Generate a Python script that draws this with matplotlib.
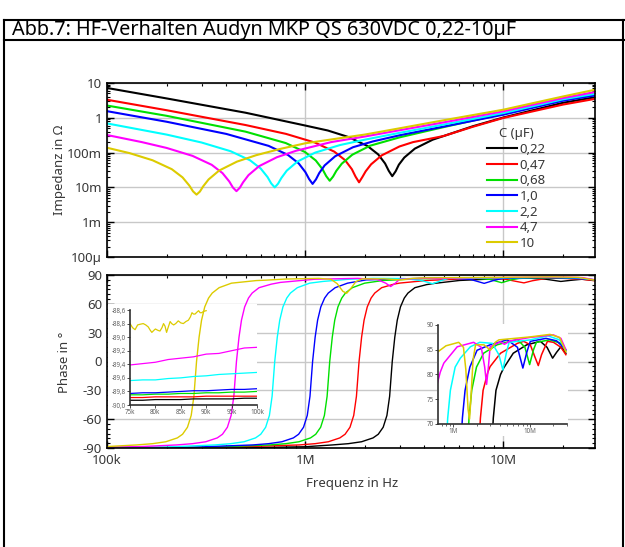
import matplotlib
matplotlib.use("Agg")
import matplotlib.pyplot as plt
from matplotlib.lines import Line2D
from matplotlib.patches import Rectangle
from matplotlib.ticker import FixedLocator, LogLocator, MultipleLocator, NullFormatter

plt.rcParams["font.family"] = ["Noto Sans", "DejaVu Sans"]
plt.rcParams["axes.unicode_minus"] = False

W, H = 625, 547

labels = ["0,22", "0,47", "0,68", "1,0", "2,2", "4,7", "10"]
colors = ["#000000", "#ff0000", "#00e000", "#0000ff", "#00ffff", "#ff00ff", "#dccb00"]

# impedance |Z| in ohm over frequency in Hz
fz_022 = [1e5, 2e5, 5e5, 1e6, 1.3e6, 1.65e6, 2.0625e6, 2.3375e6, 2.53e6, 2.64e6, 2.75e6, 2.86e6, 2.97e6,
          3.1625e6, 3.575e6, 4.4e6, 5e6, 7e6, 1e7, 2e7, 2.9e7]
z_022 = [7.2, 3.6, 1.4, 0.6, 0.432, 0.281, 0.155, 0.0884, 0.0487, 0.030, 0.021, 0.029, 0.045,
         0.072, 0.13, 0.235, 0.3, 0.57, 1.02, 2.7, 3.9]
fz_047 = [1e5, 2e5, 5e5, 8e5, 1.122e6, 1.4025e6, 1.5895e6, 1.7204e6, 1.7952e6, 1.87e6, 1.9448e6, 2.0196e6,
          2.1505e6, 2.431e6, 2.99e6, 3.5e6, 5e6, 7e6, 1e7, 2e7, 2.9e7]
z_047 = [3.3, 1.65, 0.62, 0.345, 0.1936, 0.1065, 0.0607, 0.0333, 0.0204, 0.014, 0.020, 0.029,
         0.046, 0.083, 0.15, 0.2, 0.3, 0.55, 0.99, 2.4, 3.5]
fz_068 = [1e5, 2e5, 5e5, 7.98e5, 9.975e5, 1.1305e6, 1.2236e6, 1.2768e6, 1.33e6, 1.3832e6, 1.4364e6,
          1.5295e6, 1.729e6, 2.128e6, 3e6, 5e6, 1e7, 2e7, 2.9e7]
z_068 = [2.25, 1.14, 0.40, 0.188, 0.104, 0.0595, 0.0332, 0.0211, 0.0155, 0.0205, 0.030,
         0.048, 0.087, 0.158, 0.275, 0.54, 1.3, 3.25, 4.6]
fz_10 = [1e5, 2e5, 4e5, 6.54e5, 8.175e5, 9.265e5, 1.0028e6, 1.0464e6, 1.09e6, 1.1336e6, 1.1772e6,
         1.2535e6, 1.417e6, 1.744e6, 2.2e6, 3e6, 5e6, 1e7, 2e7, 2.9e7]
z_10 = [1.55, 0.77, 0.344, 0.156, 0.0861, 0.0493, 0.0274, 0.0174, 0.0126, 0.017, 0.0258,
        0.0428, 0.0785, 0.143, 0.21, 0.315, 0.56, 1.23, 3.1, 4.4]
fz_22 = [1e5, 2e5, 3e5, 4.21e5, 5.265e5, 5.967e5, 6.458e5, 6.739e5, 7.02e5, 7.3e5, 7.582e5, 8.073e5,
         9.126e5, 1.1232e6, 1.5e6, 2e6, 3e6, 5e6, 1e7, 2e7, 2.9e7]
z_22 = [0.69, 0.329, 0.195, 0.1093, 0.0603, 0.0348, 0.0198, 0.013, 0.010, 0.0128, 0.0186, 0.0303,
        0.055, 0.1, 0.165, 0.235, 0.37, 0.64, 1.37, 3.4, 4.9]
fz_47 = [1e5, 1.5e5, 2e5, 2.7e5, 3.375e5, 3.825e5, 4.14e5, 4.32e5, 4.5e5, 4.68e5, 4.86e5, 5.175e5,
         5.85e5, 7.2e5, 9e5, 1.35e6, 2e6, 3e6, 5e6, 1e7, 2e7, 2.9e7]
z_47 = [0.32, 0.2, 0.136, 0.0806, 0.0446, 0.0258, 0.0148, 0.0099, 0.0078, 0.0098, 0.014, 0.0225,
        0.0407, 0.0737, 0.113, 0.2, 0.29, 0.44, 0.74, 1.54, 3.7, 5.5]
fz_100 = [1e5, 1.3e5, 1.698e5, 2.1225e5, 2.4055e5, 2.604e5, 2.717e5, 2.83e5, 2.943e5, 3.056e5, 3.2545e5,
          3.679e5, 4.528e5, 5.66e5, 7.5e5, 1e6, 1.5e6, 2e6, 3e6, 5e6, 1e7, 2e7, 2.9e7]
z_100 = [0.138, 0.0966, 0.0602, 0.0334, 0.0194, 0.01125, 0.0077, 0.0062, 0.0076, 0.0107, 0.0169,
         0.0305, 0.0551, 0.0843, 0.128, 0.185, 0.26, 0.33, 0.5, 0.85, 1.71, 4.1, 6.4]

# phase in degree over frequency in Hz
fp_022 = [1e5, 3e5, 6e5, 1e6, 1.375e6, 1.65e6, 1.925e6, 2.2e6, 2.3375e6, 2.475e6, 2.585e6, 2.6675e6,
          2.75e6, 2.8325e6, 2.915e6, 3.025e6, 3.1625e6, 3.3e6, 3.575e6, 4.1e6, 4.5e6, 6e6, 9e6,
          13.5e6, 16.5e6, 19.5e6, 22e6, 25e6, 29e6]
p_022 = [-89.9, -89.7, -89.4, -88.7, -86.8, -85.5, -83.5, -79.5, -75.7, -68.4, -56.1, -36.2,
         0, 25.3, 43, 56.8, 66, 71.2, 76.8, 80, 81.3, 84.3, 86,
         86.7, 85.5, 83.3, 84.5, 85.6, 84.3]
fp_047 = [1e5, 4e5, 9.35e5, 1.122e6, 1.309e6, 1.496e6, 1.5895e6, 1.683e6, 1.7578e6, 1.8139e6,
          1.87e6, 1.9261e6, 1.9822e6, 2.057e6, 2.1505e6, 2.244e6, 2.431e6, 2.805e6, 3e6, 4.1e6,
          6.8e6, 8.2e6, 10e6, 11.5e6, 12.7e6, 14e6, 16.7e6, 20e6, 25e6, 29e6]
p_047 = [-89.87, -89.3, -86.8, -85.5, -83.5, -79.5, -75.7, -68.4, -56.1, -36.2,
         0, 25.3, 43, 56.8, 66, 71.2, 76.8, 80.5, 81.6, 84.3,
         86.3, 86.7, 86, 83.5, 81.8, 84, 86.7, 86.5, 85.5, 84]
fp_068 = [1e5, 3e5, 6.65e5, 7.98e5, 9.31e5, 1.064e6, 1.1305e6, 1.197e6, 1.2502e6, 1.2901e6,
          1.33e6, 1.3699e6, 1.4098e6, 1.463e6, 1.5295e6, 1.596e6, 1.729e6, 1.995e6, 2.47e6, 3.7e6,
          6.8e6, 8.5e6, 9.8e6, 11e6, 12e6, 18e6, 25e6, 29e6]
p_068 = [-89.8, -89.5, -86.8, -85.5, -83.5, -79.5, -75.7, -68.4, -56.1, -36.2,
         0, 25.3, 43, 56.8, 66, 71.2, 76.8, 81.5, 84.3, 86,
         87.1, 85.5, 82, 85, 86.5, 87, 86.3, 84.8]
fp_10 = [1e5, 2.5e5, 5.45e5, 6.54e5, 7.63e5, 8.72e5, 9.265e5, 9.81e5, 1.0246e6, 1.0573e6,
         1.09e6, 1.1227e6, 1.1554e6, 1.199e6, 1.2535e6, 1.308e6, 1.417e6, 1.635e6, 2.03e6, 3e6,
         5e6, 6.8e6, 8e6, 9e6, 10e6, 16e6, 22e6, 29e6]
p_10 = [-89.76, -89.4, -86.8, -85.5, -83.5, -79.5, -75.7, -68.4, -56.1, -36.2,
        0, 25.3, 43, 56.8, 66, 71.2, 76.8, 81.5, 84.9, 86,
        87, 85.5, 81.3, 84.5, 86.7, 87.3, 86.8, 85]
fp_22 = [1e5, 2e5, 3.51e5, 4.212e5, 4.914e5, 5.616e5, 5.967e5, 6.318e5, 6.599e5, 6.809e5,
         7.02e5, 7.231e5, 7.441e5, 7.722e5, 8.073e5, 8.424e5, 9.126e5, 1.053e6, 1.23e6, 1.66e6,
         2.2e6, 3.2e6, 3.9e6, 4.4e6, 4.9e6, 5.3e6, 10e6, 17e6, 24e6, 29e6]
p_22 = [-89.52, -89.0, -86.8, -85.5, -83.5, -79.5, -75.7, -68.4, -56.1, -36.2,
        0, 25.3, 43, 56.8, 66, 71.2, 76.8, 81.5, 83.3, 85.6,
        86.5, 86.3, 84, 80.9, 84.5, 86.5, 87, 87.8, 87, 85]
fp_47 = [1e5, 1.5e5, 2.25e5, 2.7e5, 3.15e5, 3.6e5, 3.825e5, 4.05e5, 4.23e5, 4.365e5,
         4.5e5, 4.635e5, 4.77e5, 4.95e5, 5.175e5, 5.4e5, 5.85e5, 6.75e5, 7.5e5, 1.12e6,
         1.83e6, 2.3e6, 2.55e6, 2.7e6, 2.85e6, 3e6, 4.1e6, 4.6e6, 5.5e6, 10e6, 20e6, 25e6, 29e6]
p_47 = [-89.15, -88.5, -86.8, -85.5, -83.5, -79.5, -75.7, -68.4, -56.1, -36.2,
        0, 25.3, 43, 56.8, 66, 71.2, 76.8, 80.5, 82.3, 85.6,
        86.5, 85.5, 81.5, 78, 81.5, 85.6, 86.6, 86.1, 86.8, 87.5, 88, 87.3, 85]
fp_100 = [1e5, 1.415e5, 1.698e5, 1.981e5, 2.264e5, 2.4055e5, 2.547e5, 2.66e5, 2.745e5,
          2.83e5, 2.915e5, 3.0e5, 3.113e5, 3.2545e5, 3.396e5, 3.679e5, 4.245e5, 5.66e5, 6.3e5, 8e5,
          1.17e6, 1.35e6, 1.45e6, 1.55e6, 1.62e6, 1.7e6, 1.8e6, 1.94e6, 2.5e6, 3.03e6, 3.5e6, 3.9e6,
          10e6, 18e6, 24e6, 29e6]
p_100 = [-88.5, -86.8, -85.5, -83.5, -79.5, -75.7, -68.4, -56.1, -36.2,
         0, 25.3, 43, 56.8, 66, 71.2, 76.8, 81.5, 84.2, 84.6, 85.8,
         86.5, 85.5, 81, 73, 71, 76, 83, 86, 86, 84.9, 86.5, 87,
         87.6, 88.1, 87.5, 84.6]

# low frequency detail, 75k..100k
f_lo = [75e3, 77.5e3, 80e3, 82.5e3, 85e3, 87.5e3, 90e3, 92.5e3, 95e3, 97.5e3, 100e3]
lo_022 = [-89.93, -89.93, -89.92, -89.92, -89.92, -89.91, -89.91, -89.91, -89.91, -89.90, -89.90]
lo_047 = [-89.89, -89.89, -89.88, -89.88, -89.88, -89.88, -89.87, -89.87, -89.87, -89.87, -89.87]
lo_068 = [-89.85, -89.85, -89.84, -89.84, -89.83, -89.83, -89.82, -89.82, -89.81, -89.81, -89.80]
lo_10 = [-89.83, -89.82, -89.82, -89.81, -89.80, -89.79, -89.79, -89.78, -89.77, -89.77, -89.76]
lo_22 = [-89.64, -89.63, -89.63, -89.61, -89.60, -89.58, -89.57, -89.55, -89.54, -89.53, -89.52]
lo_47 = [-89.41, -89.39, -89.37, -89.33, -89.31, -89.29, -89.25, -89.24, -89.20, -89.16, -89.15]
f_lo_100 = [75.0e3, 75.5e3, 76.0e3, 76.5e3, 77.0e3, 77.6e3, 78.1e3, 78.6e3, 79.0e3, 79.3e3, 79.7e3, 80.0e3,
            80.5e3, 80.9e3, 81.3e3, 81.6e3, 81.9e3, 82.2e3, 82.5e3, 82.9e3, 83.2e3, 83.6e3, 84.0e3, 84.5e3,
            85.0e3, 85.5e3, 86.0e3, 86.5e3, 86.9e3, 87.2e3, 87.5e3, 87.8e3, 88.2e3, 88.5e3, 88.8e3, 89.1e3,
            89.5e3, 90.0e3]
lo_100 = [-88.80, -88.86, -88.89, -88.82, -88.81, -88.80, -88.82, -88.85, -88.90, -88.93, -88.90, -88.88,
          -88.90, -88.91, -88.86, -88.80, -88.84, -88.93, -88.86, -88.77, -88.80, -88.82, -88.80, -88.76,
          -88.79, -88.80, -88.77, -88.75, -88.70, -88.64, -88.66, -88.66, -88.63, -88.61, -88.64, -88.64,
          -88.62, -88.61]

z_series = [(fz_022, z_022), (fz_047, z_047), (fz_068, z_068), (fz_10, z_10),
            (fz_22, z_22), (fz_47, z_47), (fz_100, z_100)]
p_series = [(fp_022, p_022), (fp_047, p_047), (fp_068, p_068), (fp_10, p_10),
            (fp_22, p_22), (fp_47, p_47), (fp_100, p_100)]
lo_series = [(f_lo, lo_022), (f_lo, lo_047), (f_lo, lo_068), (f_lo, lo_10),
             (f_lo, lo_22), (f_lo, lo_47), (f_lo_100, lo_100)]

TXT = "#383838"
GRID = "#c8c8c8"


def box(x0, y0, x1, y1):
    return [x0 / W, 1 - y1 / H, (x1 - x0) / W, (y1 - y0) / H]


def style_main(ax):
    ax.set_axisbelow(True)
    ax.grid(True, which="major", color=GRID, lw=1)
    ax.tick_params(which="both", direction="in", top=True, right=True,
                   labelsize=9.5, labelcolor=TXT)
    ax.tick_params(which="major", length=5, width=1)
    ax.tick_params(which="minor", length=2.5, width=0.8)
    for s in ax.spines.values():
        s.set_linewidth(1.2)


def style_inset(ax):
    ax.set_facecolor("none")
    ax.spines["top"].set_visible(False)
    ax.spines["right"].set_visible(False)
    for s in ("left", "bottom"):
        ax.spines[s].set_color("#303030")
        ax.spines[s].set_linewidth(1.2)
    ax.tick_params(which="both", direction="out", labelsize=4.5, labelcolor="#606060",
                   color="#303030", pad=1)
    ax.tick_params(which="major", length=2, width=0.6)
    ax.tick_params(which="minor", length=1.2, width=0.5)


fig = plt.figure(figsize=(W / 100, H / 100), dpi=100)

# frame and title
for xs, ys in [([3.5, 3.5], [19.5, H]), ([3.5, W], [19.5, 19.5]), ([3.5, W], [40, 40]),
               ([623, 623], [19.5, H])]:
    fig.add_artist(Line2D([x / W for x in xs], [1 - y / H for y in ys],
                          transform=fig.transFigure, color="black", lw=1.5))
fig.text(12 / W, 1 - 30 / H, "Abb.7: HF-Verhalten Audyn MKP QS 630VDC 0,22-10µF",
         ha="left", va="center", fontsize=14.3, color="black")

# impedance
ax_z = fig.add_axes(box(107, 83, 595, 257))
for (f, z), c, lab in zip(z_series, colors, labels):
    ax_z.plot(f, z, color=c, lw=1.5, label=lab)
ax_z.set_xscale("log")
ax_z.set_yscale("log")
ax_z.set_xlim(1e5, 2.9e7)
ax_z.set_ylim(1e-4, 10)
ax_z.xaxis.set_major_locator(FixedLocator([1e5, 1e6, 1e7]))
ax_z.xaxis.set_minor_locator(LogLocator(subs=range(2, 10)))
ax_z.xaxis.set_minor_formatter(NullFormatter())
ax_z.set_yticks([1e-4, 1e-3, 1e-2, 1e-1, 1, 10])
ax_z.set_yticklabels(["100µ", "1m", "10m", "100m", "1", "10"])
ax_z.yaxis.set_minor_locator(LogLocator(subs=range(2, 10)))
ax_z.yaxis.set_minor_formatter(NullFormatter())
style_main(ax_z)
ax_z.tick_params(labelbottom=False)
leg = ax_z.legend(title="C (µF)", loc="upper left", bbox_to_anchor=(0.779, 0.745),
                  frameon=False, fontsize=9.5, title_fontsize=9.5, handlelength=2.3,
                  handletextpad=0.15, labelspacing=0.2, borderpad=0, borderaxespad=0)
for t in leg.get_texts():
    t.set_color(TXT)
leg.get_title().set_color(TXT)

# phase
ax_p = fig.add_axes(box(107, 275, 595, 448))
ax_p.add_patch(Rectangle((108 / W, 1 - 417 / H), 149 / W, 113 / H, transform=fig.transFigure,
                         facecolor="white", edgecolor="none", zorder=1, clip_on=False))
ax_p.add_patch(Rectangle((437 / W, 1 - 436 / H), 131 / W, 112 / H, transform=fig.transFigure,
                         facecolor="white", edgecolor="none", zorder=1, clip_on=False))
for (f, p), c in zip(p_series, colors):
    ax_p.plot(f, p, color=c, lw=1.0)
ax_p.set_xscale("log")
ax_p.set_xlim(1e5, 2.9e7)
ax_p.set_ylim(-90, 90)
ax_p.xaxis.set_major_locator(FixedLocator([1e5, 1e6, 1e7]))
ax_p.set_xticklabels(["100k", "1M", "10M"])
ax_p.xaxis.set_minor_locator(LogLocator(subs=range(2, 10)))
ax_p.xaxis.set_minor_formatter(NullFormatter())
ax_p.set_yticks(range(-90, 91, 30))
ax_p.yaxis.set_minor_locator(MultipleLocator(5))
style_main(ax_p)
ax_p.tick_params(axis="x", pad=4.5)

fig.text(60 / W, 1 - 170 / H, "Impedanz in Ω", rotation=90, ha="center", va="center",
         fontsize=9.5, color=TXT)
fig.text(65 / W, 1 - 362 / H, "Phase in °", rotation=90, ha="center", va="center",
         fontsize=9.5, color=TXT)
fig.text(352 / W, 1 - 483 / H, "Frequenz in Hz", ha="center", va="center",
         fontsize=9.5, color=TXT)

# inset: low frequency
ax_l = fig.add_axes(box(130, 310, 257, 405))
for (f, p), c in zip(lo_series, colors):
    ax_l.plot(f, p, color=c, lw=0.9)
ax_l.set_xlim(75e3, 100e3)
ax_l.set_ylim(-90.0, -88.6)
ax_l.set_xticks([75e3, 80e3, 85e3, 90e3, 95e3, 100e3])
ax_l.set_xticklabels(["75k", "80k", "85k", "90k", "95k", "100k"])
yt = [-90.0, -89.8, -89.6, -89.4, -89.2, -89.0, -88.8, -88.6]
ax_l.set_yticks(yt)
ax_l.set_yticklabels([f"{v:.1f}".replace(".", ",") for v in yt])
style_inset(ax_l)

# inset: high frequency
ax_r = fig.add_axes(box(438, 325, 567, 424))
for (f, p), c in zip(p_series, colors):
    ax_r.plot(f, p, color=c, lw=1.1)
ax_r.set_xscale("log")
ax_r.set_xlim(6.3e5, 3e7)
ax_r.set_ylim(70, 90)
ax_r.xaxis.set_major_locator(FixedLocator([1e6, 1e7]))
ax_r.set_xticklabels(["1M", "10M"])
ax_r.xaxis.set_minor_locator(LogLocator(subs=range(2, 10)))
ax_r.xaxis.set_minor_formatter(NullFormatter())
ax_r.set_yticks([70, 75, 80, 85, 90])
style_inset(ax_r)

fig.savefig("out.png", dpi=100)
